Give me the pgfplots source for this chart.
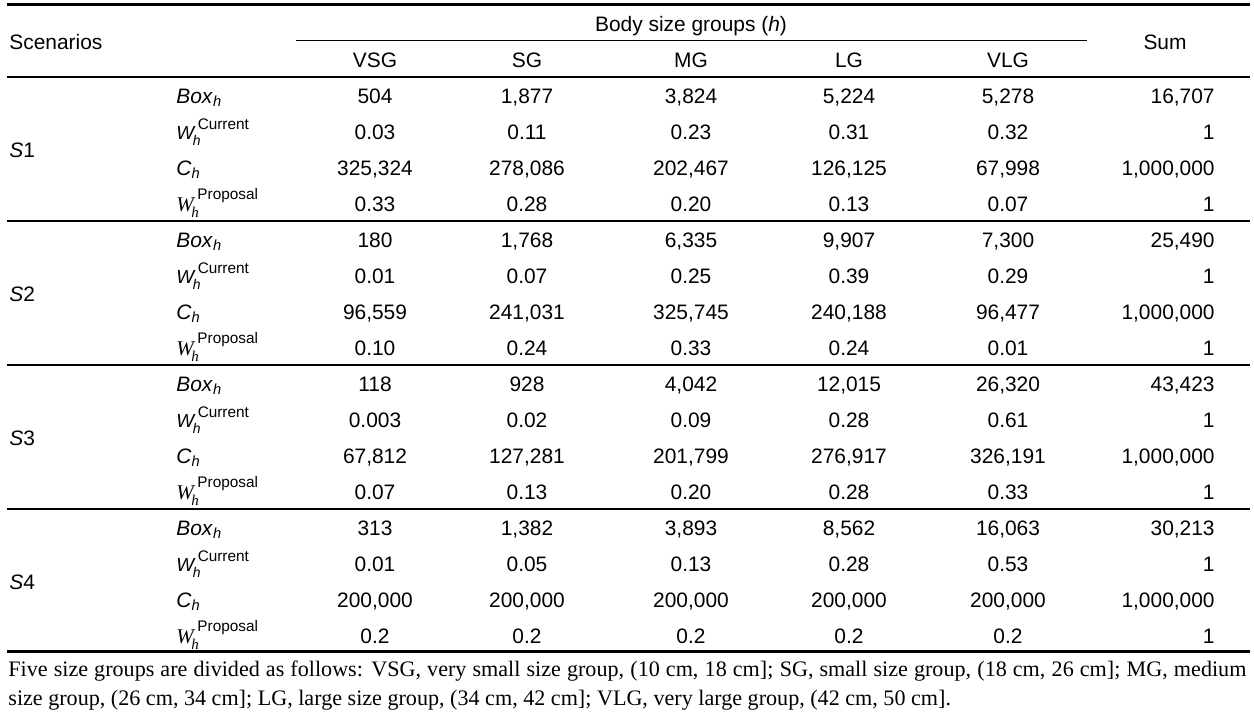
\documentclass[border=0pt]{standalone}
\usepackage{fontspec}
\setmainfont{Liberation Sans}
\newfontfamily\serifft{Liberation Serif}
\usepackage{pgfplots}
\pgfplotsset{compat=1.18}
\usepackage{pgfplotstable}

\newcommand\fs{\fontsize{10.5}{12}\selectfont}
\protected\def\Boxh{\textit{Box}\textsubscript{\textit{h}}}
\protected\def\Ch{\textit{C}\textsubscript{\textit{h}}}
\protected\def\Wcur{{\fontsize{9.5}{10}\selectfont\textit{W}}\rlap{\kern-1.5bp\raisebox{-3bp}{\fontsize{7}{8}\selectfont\textit{h}}}\kern1bp\raisebox{5bp}{\fontsize{7.7}{8}\selectfont Current}}
\protected\def\Wpro{{\serifft\fontsize{10.5}{10}\selectfont\textit{W}}\rlap{\kern-2bp\raisebox{-3bp}{\serifft\fontsize{7.5}{8}\selectfont\textit{h}}}\kern1bp\raisebox{6bp}{\fontsize{7.7}{8}\selectfont Proposal}}
\protected\def\Sc#1{\textit{S}#1}
\protected\def\Bsg{Body size groups (\textit{h})}

\pgfplotstableread[col sep=semicolon]{
y;lab;a;b;c;d;e;s
103;\Boxh;504;1,877;3,824;5,224;5,278;16,707
139;\Wcur;0.03;0.11;0.23;0.31;0.32;1
175;\Ch;325,324;278,086;202,467;126,125;67,998;1,000,000
211;\Wpro;0.33;0.28;0.20;0.13;0.07;1
247;\Boxh;180;1,768;6,335;9,907;7,300;25,490
283;\Wcur;0.01;0.07;0.25;0.39;0.29;1
319;\Ch;96,559;241,031;325,745;240,188;96,477;1,000,000
355;\Wpro;0.10;0.24;0.33;0.24;0.01;1
391;\Boxh;118;928;4,042;12,015;26,320;43,423
427;\Wcur;0.003;0.02;0.09;0.28;0.61;1
463;\Ch;67,812;127,281;201,799;276,917;326,191;1,000,000
499;\Wpro;0.07;0.13;0.20;0.28;0.33;1
535;\Boxh;313;1,382;3,893;8,562;16,063;30,213
571;\Wcur;0.01;0.05;0.13;0.28;0.53;1
607;\Ch;200,000;200,000;200,000;200,000;200,000;1,000,000
643;\Wpro;0.2;0.2;0.2;0.2;0.2;1
}\cells

\pgfplotstableread[col sep=semicolon]{
x;y;t
375;67;VSG
527;67;SG
691;67;MG
849;67;LG
1008;67;VLG
1165;50;Sum
691;32;\Bsg
}\heads

\pgfplotstableread[col sep=semicolon]{
x;y;t
9;50;Scenarios
9;157;\Sc{1}
9;301;\Sc{2}
9;445;\Sc{3}
9;589;\Sc{4}
}\lefts

\begin{document}
\begin{tikzpicture}
\begin{axis}[
  scale only axis, width=627bp, height=359.5bp,
  xmin=0, xmax=1254, ymin=0, ymax=719, y dir=reverse,
  hide axis, clip=false,
  txt/.style={draw=none, mark=none, nodes near coords, point meta=explicit symbolic,
    every node near coord/.append style={anchor=#1, inner sep=0pt, text=black, font=\fs}},
]
% rules
\addplot[black, line width=1.5bp] coordinates {(7,4.5) (1250,4.5)};
\addplot[black, line width=0.6bp] coordinates {(296,40.5) (1087,40.5)};
\addplot[black, line width=0.6bp] coordinates {(7,77) (1250,77)};
\addplot[black, line width=0.6bp] coordinates {(7,221) (1250,221)};
\addplot[black, line width=0.6bp] coordinates {(7,365) (1250,365)};
\addplot[black, line width=0.6bp] coordinates {(7,509) (1250,509)};
\addplot[black, line width=1.5bp] coordinates {(7,651) (1250,651)};
% headers
\addplot[txt=base] table[x=x, y=y, meta=t] {\heads};
\addplot[txt=base west] table[x=x, y=y, meta=t] {\lefts};
% cells
\addplot[txt=base west] table[x expr=176, y=y, meta=lab] {\cells};
\addplot[txt=base] table[x expr=375, y=y, meta=a] {\cells};
\addplot[txt=base] table[x expr=527, y=y, meta=b] {\cells};
\addplot[txt=base] table[x expr=691, y=y, meta=c] {\cells};
\addplot[txt=base] table[x expr=849, y=y, meta=d] {\cells};
\addplot[txt=base] table[x expr=1008, y=y, meta=e] {\cells};
\addplot[txt=base east] table[x expr=1215, y=y, meta=s] {\cells};
% footnote
\node[anchor=base west, inner sep=0pt, font=\serifft\fontsize{11.1}{12}\selectfont] at (axis cs:8,676)
  {\hbox to 619bp{Five size groups are divided as follows: VSG, very small size group, (10 cm, 18 cm]; SG, small size group, (18 cm, 26 cm]; MG, medium}};
\node[anchor=base west, inner sep=0pt, font=\serifft\fontsize{11.1}{12}\selectfont] at (axis cs:8,705)
  {size group, (26 cm, 34 cm]; LG, large size group, (34 cm, 42 cm]; VLG, very large group, (42 cm, 50 cm].};
\end{axis}
\pgfresetboundingbox
\path (current axis.south west) rectangle (current axis.north east);
\end{tikzpicture}
\end{document}
